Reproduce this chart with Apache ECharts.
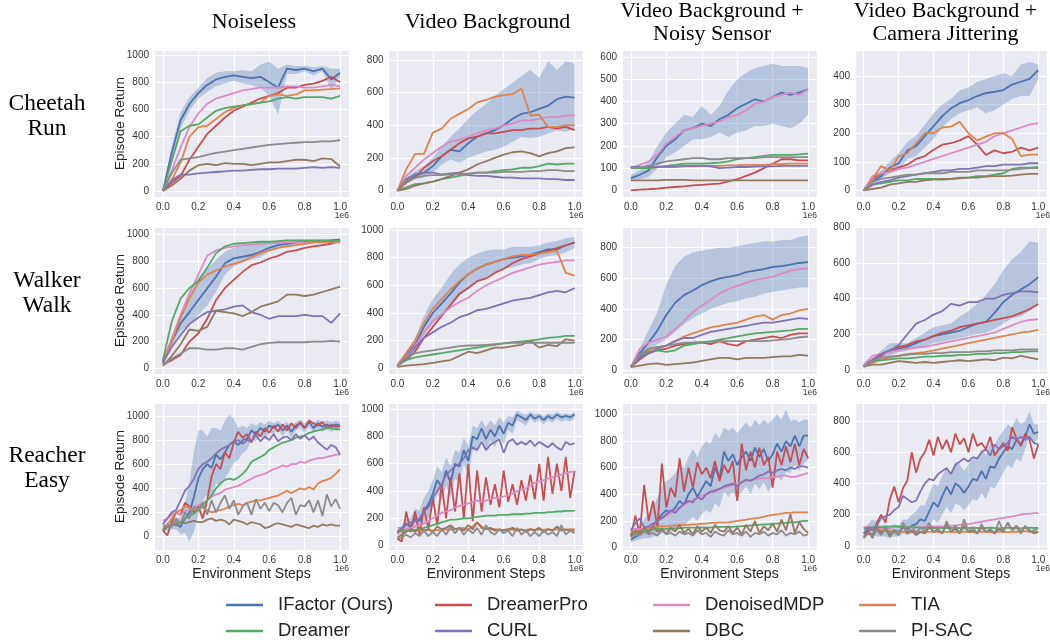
<!DOCTYPE html>
<html><head><meta charset="utf-8">
<script src="https://cdn.jsdelivr.net/npm/echarts@6/dist/echarts.min.js"></script>
<style>html,body{margin:0;padding:0;background:#fff}#c{width:1050px;height:640px}</style>
</head><body><div id="c"></div><script>
const methods = ['IFactor (Ours)','DreamerPro','DenoisedMDP','TIA','Dreamer','CURL','DBC','PI-SAC'];
const colors = ['#4C72B0','#C44E52','#DA8BC3','#DD8452','#55A868','#8172B3','#937860','#8C8C8C'];
const colTitles = [['Noiseless'],['Video Background'],['Video Background +','Noisy Sensor'],['Video Background +','Camera Jittering']];
const rowTitles = [['Cheetah','Run'],['Walker','Walk'],['Reacher','Easy']];
const xTickLabels = ['0.0','0.2','0.4','0.6','0.8','1.0'];
const xOffsetLabel = '1e6';
const yLabel = 'Episode Return';
const xLabel = 'Environment Steps';
const stepsCoarse = [0,0.05,0.1,0.15,0.2,0.25,0.3,0.35,0.4,0.45,0.5,0.55,0.6,0.65,0.7,0.75,0.8,0.85,0.9,0.95,1.0];
const stepsFine = [0,0.025,0.05,0.075,0.1,0.125,0.15,0.175,0.2,0.225,0.25,0.275,0.3,0.325,0.35,0.375,0.4,0.425,0.45,0.475,0.5,0.525,0.55,0.575,0.6,0.625,0.65,0.675,0.7,0.725,0.75,0.775,0.8,0.825,0.85,0.875,0.9,0.925,0.95,0.975,1.0];

// ---- Cheetah Run / Noiseless
const CR_NL_IFactor = [0,280,520,640,720,780,820,840,850,840,830,840,800,760,900,890,900,880,900,820,870];
const CR_NL_hi = [0,330,580,690,760,830,870,880,880,890,880,930,950,900,930,920,920,910,920,900,900];
const CR_NL_lo = [0,230,460,590,680,730,770,790,810,790,780,760,700,560,860,860,880,850,880,740,840];
const CR_NL_DreamerPro = [0,60,110,230,325,420,480,540,590,620,650,680,700,720,760,760,780,790,810,840,800];
const CR_NL_DenoisedMDP = [0,150,320,470,570,640,680,700,720,740,750,760,760,760,770,770,760,760,770,780,770];
const CR_NL_TIA = [0,80,210,400,470,480,530,580,610,630,640,650,700,710,700,710,740,740,745,750,755];
const CR_NL_Dreamer = [0,220,440,480,490,540,590,610,620,630,640,650,660,680,690,680,690,690,690,680,700];
const CR_NL_CURL = [0,80,120,120,130,135,140,145,150,150,155,160,160,165,165,165,170,175,170,175,170];
const CR_NL_DBC = [0,40,90,150,190,200,190,205,200,200,190,200,210,210,220,230,230,220,240,235,180];
const CR_NL_PISAC = [0,130,230,240,250,265,280,290,300,310,320,330,340,345,350,355,360,360,365,365,375];
// ---- Cheetah Run / Video Background
const CR_VB_IFactor = [0,60,90,110,150,210,250,240,290,330,350,370,400,440,470,480,500,520,560,575,570];
const CR_VB_hi = [0,80,120,150,200,270,330,380,440,490,530,580,620,660,700,740,690,790,740,790,780];
const CR_VB_lo = [0,40,70,80,110,160,190,170,200,220,240,250,270,300,330,320,330,350,370,360,380];
const CR_VB_DreamerPro = [0,50,80,140,180,210,250,290,320,330,350,350,360,370,370,380,380,390,380,390,370];
const CR_VB_DenoisedMDP = [0,90,140,190,230,270,300,310,330,350,370,380,400,410,430,430,440,450,450,460,460];
const CR_VB_TIA = [0,130,225,225,355,380,440,470,500,540,555,575,585,590,625,460,465,390,390,400,400];
const CR_VB_Dreamer = [0,20,40,45,55,70,80,90,100,110,110,120,125,130,140,140,150,165,160,165,165];
const CR_VB_CURL = [0,70,100,110,110,100,105,110,95,90,90,85,80,80,75,75,75,70,70,65,65];
const CR_VB_DBC = [0,10,30,45,55,70,90,110,130,160,180,200,220,235,240,230,210,230,240,260,265];
const CR_VB_PISAC = [0,60,80,90,95,95,100,100,105,110,110,110,115,115,115,120,120,125,125,120,120];
// ---- Cheetah Run / Video Background + Noisy Sensor
const CR_NS_IFactor = [55,70,90,150,200,230,270,280,300,290,320,340,370,390,410,400,420,440,430,440,455];
const CR_NS_hi = [70,90,130,200,260,300,340,330,380,340,380,450,500,530,550,560,570,560,560,560,550];
const CR_NS_lo = [40,50,60,100,150,170,200,230,230,240,260,240,260,270,290,290,300,290,280,300,340];
const CR_NS_DreamerPro = [0,3,5,8,12,15,18,22,25,28,30,40,50,65,80,100,120,140,140,135,135];
const CR_NS_DenoisedMDP = [100,115,130,160,210,240,270,280,290,300,310,330,340,360,390,400,420,430,440,430,455];
const CR_NS_TIA = [100,100,100,105,105,105,108,108,110,110,110,112,113,115,115,115,118,118,120,120,120];
const CR_NS_Dreamer = [100,100,100,105,110,115,120,120,120,122,125,130,140,145,150,155,160,160,160,162,165];
const CR_NS_CURL = [105,105,105,105,107,108,110,110,110,108,100,102,105,105,107,108,108,110,110,110,110];
const CR_NS_DBC = [45,45,45,45,47,47,47,45,45,45,45,45,45,45,45,45,45,45,45,45,45];
const CR_NS_PISAC = [100,105,110,120,130,135,140,145,145,140,140,145,145,145,145,150,150,150,150,150,150];
// ---- Cheetah Run / Video Background + Camera Jittering
const CR_CJ_IFactor = [0,30,50,80,95,140,155,190,225,260,287,305,316,330,340,345,351,370,380,390,421];
const CR_CJ_hi = [10,40,70,100,130,170,190,230,270,300,320,350,360,380,390,400,410,400,440,450,440];
const CR_CJ_lo = [0,20,40,60,70,110,120,150,180,220,250,270,280,290,270,280,300,320,330,330,390];
const CR_CJ_DreamerPro = [0,40,60,70,80,90,110,120,142,160,165,175,190,160,124,140,130,135,150,140,150];
const CR_CJ_DenoisedMDP = [0,50,60,65,75,80,90,100,110,120,130,140,150,160,170,190,200,210,220,230,235];
const CR_CJ_TIA = [0,40,85,70,119,130,165,200,200,220,223,240,200,175,188,200,200,180,120,125,125];
const CR_CJ_Dreamer = [0,20,25,30,35,35,40,40,40,38,40,45,45,50,50,55,60,75,80,80,82];
const CR_CJ_CURL = [0,20,30,35,45,50,55,60,65,70,70,75,75,80,85,85,90,90,90,95,95];
const CR_CJ_DBC = [0,5,10,20,25,30,30,35,38,40,40,42,45,45,48,50,50,52,55,58,58];
const CR_CJ_PISAC = [0,30,40,45,50,55,55,60,60,60,65,65,65,70,70,70,70,72,75,78,78];
// ---- Walker Walk / Noiseless
const WW_NL_IFactor = [50,200,336,420,510,597,684,784,821,833,846,870,900,920,930,940,945,950,950,955,960];
const WW_NL_hi = [60,230,400,560,680,740,810,870,900,920,930,940,940,950,955,960,960,960,965,965,970];
const WW_NL_lo = [40,170,280,320,400,470,570,700,760,790,810,830,870,900,910,920,930,940,940,945,950];
const WW_NL_DreamerPro = [30,60,100,200,260,370,510,600,660,720,770,790,820,840,870,880,900,910,920,930,950];
const WW_NL_DenoisedMDP = [50,220,400,560,700,840,880,900,910,920,925,930,935,935,940,940,940,940,940,940,940];
const WW_NL_TIA = [40,200,380,520,640,700,730,760,780,800,830,860,880,900,910,920,930,940,940,945,945];
const WW_NL_Dreamer = [60,350,520,600,650,750,860,910,930,935,940,945,945,950,955,955,955,955,955,950,955];
const WW_NL_CURL = [40,160,250,330,380,420,430,440,460,470,420,400,370,390,390,390,400,390,390,340,410];
const WW_NL_DBC = [20,90,180,290,280,310,430,420,410,390,420,460,480,500,550,550,540,550,570,590,610];
const WW_NL_PISAC = [20,70,110,150,150,140,140,150,150,140,160,180,190,195,195,195,195,200,200,205,200];
// ---- Walker Walk / Video Background
const WW_VB_IFactor = [20,100,170,300,400,470,540,620,680,720,750,770,790,800,810,820,840,860,860,890,910];
const WW_VB_hi = [30,120,220,380,500,580,680,750,800,830,850,860,860,880,880,880,890,910,920,940,950];
const WW_VB_lo = [10,80,130,240,320,390,440,520,580,620,660,690,720,730,750,760,790,810,820,840,870];
const WW_VB_DreamerPro = [20,60,120,220,300,380,460,540,580,630,650,690,720,760,790,810,830,850,870,890,910];
const WW_VB_DenoisedMDP = [20,80,160,260,340,390,440,480,510,560,600,630,660,690,710,730,750,760,770,780,780];
const WW_VB_TIA = [20,110,200,330,430,500,570,630,680,720,750,770,790,810,820,820,830,840,850,690,670];
const WW_VB_Dreamer = [20,60,80,90,100,110,120,130,140,150,160,170,180,190,195,200,210,220,225,235,235];
const WW_VB_CURL = [20,70,150,220,260,300,330,370,390,420,430,450,470,490,500,510,530,550,560,550,580];
const WW_VB_DBC = [10,20,25,30,40,50,60,90,120,110,130,150,150,160,170,200,150,170,160,210,200];
const WW_VB_PISAC = [20,80,110,120,130,140,150,160,165,165,170,175,180,185,185,185,185,185,185,185,185];
// ---- Walker Walk / Video Background + Noisy Sensor
const WW_NS_IFactor = [20,110,180,260,360,440,490,520,555,580,600,610,620,640,650,660,675,680,690,700,705];
const WW_NS_hi = [30,140,260,380,560,680,740,770,780,790,800,800,810,820,830,840,840,850,850,870,880];
const WW_NS_lo = [10,80,120,170,200,250,300,340,370,400,420,440,450,470,480,500,510,520,530,540,540];
const WW_NS_DreamerPro = [20,70,110,130,140,160,170,180,180,170,190,170,160,190,200,210,220,210,230,240,240];
const WW_NS_DenoisedMDP = [20,140,180,200,220,270,320,380,420,460,500,530,550,570,590,600,610,630,650,660,665];
const WW_NS_TIA = [20,100,130,150,160,190,220,240,260,280,290,300,310,330,350,360,330,360,370,390,400];
const WW_NS_Dreamer = [20,90,120,130,120,130,160,170,180,190,200,210,220,230,240,245,250,255,260,270,270];
const WW_NS_CURL = [20,80,110,140,160,190,210,210,230,250,260,270,280,290,300,310,310,320,330,340,335];
const WW_NS_DBC = [20,30,40,45,35,40,45,50,60,70,80,80,70,80,80,80,85,90,90,100,95];
const WW_NS_PISAC = [20,100,140,150,160,170,180,180,185,185,190,190,190,190,190,190,195,200,205,215,220];
// ---- Walker Walk / Video Background + Camera Jittering
const WW_CJ_IFactor = [20,50,90,110,120,130,150,170,190,200,210,220,240,260,270,320,380,420,450,480,520];
const WW_CJ_hi = [30,60,110,150,150,150,180,210,240,250,260,300,330,370,420,480,560,620,660,720,710];
const WW_CJ_lo = [10,40,70,80,100,110,120,130,150,160,170,180,190,200,210,230,260,290,300,330,370];
const WW_CJ_DreamerPro = [20,60,80,110,130,140,160,170,190,210,220,240,250,260,270,280,290,300,320,340,370];
const WW_CJ_DenoisedMDP = [30,80,90,100,110,120,125,130,140,150,160,170,180,190,200,210,230,250,270,280,285];
const WW_CJ_TIA = [20,40,60,70,80,90,95,100,110,120,130,140,150,160,170,180,190,200,210,215,225];
const WW_CJ_Dreamer = [20,50,55,60,65,65,70,75,75,80,80,85,85,90,90,95,95,100,100,105,105];
const WW_CJ_CURL = [20,60,90,110,140,200,260,280,310,330,370,360,380,380,400,400,420,430,440,440,435];
const WW_CJ_DBC = [20,30,30,40,50,45,40,45,40,45,50,55,50,55,60,55,70,65,80,70,60];
const WW_CJ_PISAC = [20,50,70,75,80,85,90,90,95,95,100,100,100,105,105,110,110,110,115,115,115];
// ---- Reacher Easy / Noiseless
const RE_NL_IFactor = [50,80,90,100,80,150,200,330,480,560,600,570,680,640,700,760,790,760,800,810,880,850,900,870,920,900,930,880,920,870,920,940,900,950,900,940,910,930,910,930,920];
const RE_NL_hi = [60,110,130,150,160,280,450,700,880,880,830,900,900,880,960,1010,980,900,920,900,940,920,950,930,960,940,960,930,950,920,950,970,940,980,940,970,950,960,950,960,950];
const RE_NL_lo = [40,50,60,60,20,30,-40,40,180,300,350,320,440,420,480,540,610,640,690,720,800,790,840,810,870,850,890,830,880,820,880,900,860,910,860,900,870,890,870,890,880];
const RE_NL_DreamerPro = [50,10,120,200,180,280,250,200,250,150,300,500,600,560,700,650,780,870,820,850,780,870,830,900,860,920,870,930,880,940,900,950,900,960,940,920,950,900,930,910,920];
const RE_NL_DenoisedMDP = [130,150,180,200,180,210,220,240,260,280,300,330,350,360,390,400,410,420,440,460,480,500,510,520,540,560,570,590,580,600,600,620,610,630,640,650,650,660,670,680,680];
const RE_NL_TIA = [60,100,150,200,220,250,240,220,230,240,220,200,210,220,230,250,260,270,260,280,290,300,300,310,320,330,340,360,380,360,380,400,390,410,390,440,460,470,490,520,560];
const RE_NL_Dreamer = [50,80,100,120,110,150,170,190,220,260,300,340,400,440,470,480,470,490,520,560,620,640,660,680,720,740,760,780,790,800,820,830,840,860,870,880,890,900,900,890,890];
const RE_NL_CURL = [100,150,200,220,300,380,420,480,560,600,620,650,690,720,740,760,790,800,770,800,790,840,790,830,800,850,790,820,830,800,850,810,840,800,830,780,750,720,760,740,680];
const RE_NL_DBC = [50,80,100,100,120,110,120,130,120,120,140,150,130,140,130,100,140,130,120,100,120,110,100,70,80,100,110,100,90,80,100,90,80,70,90,80,100,90,100,90,90];
const RE_NL_PISAC = [80,100,80,150,100,200,150,250,220,280,180,300,200,280,340,230,300,180,250,280,180,310,230,280,210,280,260,200,280,320,180,260,250,300,200,300,170,350,250,310,230];
// ---- Reacher Easy / Video Background
const RE_VB_IFactor = [90,120,160,140,200,180,260,300,380,480,430,550,460,600,580,700,620,800,780,860,780,850,800,880,820,900,880,960,940,920,960,930,950,920,950,930,960,940,950,940,960];
const RE_VB_hi = [110,150,200,200,270,260,350,400,480,580,540,650,580,700,680,790,730,880,860,920,870,920,880,940,900,950,940,990,970,960,980,960,970,950,970,960,980,960,970,960,980];
const RE_VB_lo = [70,90,120,90,130,110,170,200,280,380,330,440,350,490,470,600,520,700,690,780,700,770,720,800,740,850,820,920,900,880,930,900,920,890,920,900,930,910,920,910,930];
const RE_VB_DreamerPro = [50,30,250,100,250,80,280,120,350,150,450,200,500,250,530,200,600,180,550,250,500,300,450,280,550,320,450,300,480,330,520,340,600,330,650,380,600,400,650,350,550];
const RE_VB_DenoisedMDP = [130,130,120,130,140,150,160,180,200,220,240,250,260,280,290,300,310,320,330,320,330,340,350,350,360,370,380,400,410,420,440,460,470,480,490,500,510,520,530,540,540];
const RE_VB_TIA = [100,105,110,110,115,110,110,115,110,115,110,120,115,120,125,130,120,140,170,140,125,120,120,115,115,120,115,120,115,115,120,115,120,115,120,115,120,120,115,120,120];
const RE_VB_Dreamer = [110,110,110,110,115,120,130,140,150,160,170,180,190,190,195,200,200,205,210,215,220,220,220,225,225,225,230,230,230,235,235,240,240,240,245,245,250,250,255,255,255];
const RE_VB_CURL = [100,130,150,170,180,200,250,280,350,400,450,520,550,580,600,640,700,720,700,760,700,740,760,780,680,760,780,740,760,740,770,730,760,740,720,750,720,700,760,740,750];
const RE_VB_DBC = [60,80,100,120,100,130,110,120,100,140,120,130,150,120,130,110,150,120,170,130,120,130,110,120,110,120,130,110,120,100,120,110,130,100,120,110,140,110,120,110,110];
const RE_VB_PISAC = [50,60,80,60,90,70,110,70,100,70,120,80,140,90,130,80,120,90,130,80,150,100,80,120,90,110,70,130,80,110,70,100,70,110,80,100,70,150,80,110,90];
// ---- Reacher Easy / Video Background + Noisy Sensor
const RE_NS_IFactor = [60,80,100,120,140,160,200,250,280,260,300,350,320,400,450,380,440,500,460,600,520,720,650,700,620,680,720,650,750,680,740,650,700,780,720,800,760,840,760,840,840];
const RE_NS_hi = [100,130,170,210,260,300,380,460,500,520,560,620,600,680,740,680,760,800,780,860,820,900,880,900,860,900,940,900,960,920,960,930,960,1000,960,1040,950,960,940,960,960];
const RE_NS_lo = [40,50,60,70,70,80,90,110,120,110,140,170,160,200,230,200,250,280,260,330,300,420,380,420,360,420,460,400,480,440,490,420,480,540,500,570,560,620,580,630,660];
const RE_NS_DreamerPro = [80,240,100,470,200,350,150,630,300,450,380,670,420,600,450,640,550,600,520,650,500,620,560,650,350,780,580,720,600,750,620,680,450,720,620,760,640,780,620,740,670];
const RE_NS_DenoisedMDP = [140,140,140,140,140,170,200,220,240,260,280,300,320,340,360,370,390,400,410,420,440,450,460,470,480,490,500,510,510,520,520,520,530,530,540,540,530,530,540,550,560];
const RE_NS_TIA = [110,120,130,140,150,150,160,160,160,165,165,170,170,170,175,175,180,180,185,185,190,190,190,195,200,205,210,215,220,225,230,240,245,250,255,260,260,265,265,265,265];
const RE_NS_Dreamer = [100,110,120,125,130,135,140,140,140,145,145,145,150,150,150,150,150,150,150,155,155,155,155,155,160,160,165,165,170,170,175,175,180,180,185,185,190,190,195,200,200];
const RE_NS_CURL = [130,180,220,150,160,180,200,220,250,280,260,300,330,350,340,380,360,400,420,430,440,460,470,480,460,490,510,500,520,540,550,570,560,580,590,580,600,590,610,610,600];
const RE_NS_DBC = [90,130,100,150,110,160,120,140,100,150,120,170,110,140,100,160,120,150,110,170,130,120,160,110,150,100,170,120,200,110,160,130,180,120,210,130,250,110,190,140,110];
const RE_NS_PISAC = [80,100,90,120,100,110,90,130,100,110,90,120,100,110,90,130,100,110,80,120,100,90,130,100,110,90,120,80,110,100,120,90,110,100,130,90,110,100,120,90,100];
// ---- Reacher Easy / Video Background + Camera Jittering
const RE_CJ_IFactor = [80,100,110,100,90,100,80,100,90,120,110,130,140,170,160,220,280,250,320,380,330,400,380,340,380,430,420,480,430,510,500,560,600,640,620,680,650,700,780,720,730];
const RE_CJ_hi = [100,140,170,150,130,140,120,140,130,170,170,200,220,260,260,330,400,380,450,500,470,540,520,480,520,570,560,620,580,660,650,700,740,780,760,820,780,800,860,780,780];
const RE_CJ_lo = [60,70,70,60,60,60,50,60,60,80,70,80,80,100,90,130,170,150,200,250,210,270,260,230,260,300,290,340,300,380,370,420,470,520,500,560,540,620,700,660,690];
const RE_CJ_DreamerPro = [50,100,50,150,200,150,300,380,280,370,420,600,470,560,600,680,580,700,620,680,600,720,650,690,600,720,640,660,620,700,580,620,660,610,760,690,640,720,680,560,650];
const RE_CJ_DenoisedMDP = [120,120,120,115,115,115,115,120,120,120,120,120,120,120,120,125,125,125,125,125,130,130,135,140,140,145,150,155,160,165,170,175,180,185,190,195,200,205,205,210,210];
const RE_CJ_TIA = [120,110,110,100,100,95,95,95,90,90,90,90,90,90,90,90,90,90,90,90,90,88,90,92,90,88,90,92,90,88,90,92,90,88,90,92,90,95,90,90,90];
const RE_CJ_Dreamer = [110,115,120,120,120,120,125,125,125,120,120,120,120,115,115,115,115,115,115,115,115,118,115,112,115,118,115,112,115,118,115,112,115,118,115,115,112,115,118,115,115];
const RE_CJ_CURL = [80,120,100,130,180,190,200,230,250,320,300,280,290,350,400,430,420,460,480,500,460,520,540,560,540,570,560,600,620,580,650,620,640,660,700,680,700,680,700,660,650];
const RE_CJ_DBC = [60,90,70,120,80,110,60,100,70,130,80,100,70,90,80,120,90,100,80,140,90,110,80,130,90,100,80,120,90,100,80,110,90,150,100,130,90,120,100,80,90];
const RE_CJ_PISAC = [50,80,60,100,70,120,80,90,70,150,90,130,80,120,90,150,90,110,80,160,90,130,80,170,90,120,80,140,90,110,80,160,90,150,100,120,80,130,90,100,110];

// ---------- layout (positions / styles only) ----------
const colLeft = [154, 388.5, 622, 855];
const plotW = 195;
const rowTop = [50, 227, 403];
const plotH = 147;

const panels = [
  {r:0,c:0,x:stepsCoarse,lo:CR_NL_lo,hi:CR_NL_hi,ys:[CR_NL_IFactor,CR_NL_DreamerPro,CR_NL_DenoisedMDP,CR_NL_TIA,CR_NL_Dreamer,CR_NL_CURL,CR_NL_DBC,CR_NL_PISAC],ymin:-44,ymax:1037,step:200},
  {r:0,c:1,x:stepsCoarse,lo:CR_VB_lo,hi:CR_VB_hi,ys:[CR_VB_IFactor,CR_VB_DreamerPro,CR_VB_DenoisedMDP,CR_VB_TIA,CR_VB_Dreamer,CR_VB_CURL,CR_VB_DBC,CR_VB_PISAC],ymin:-39,ymax:861,step:200},
  {r:0,c:2,x:stepsCoarse,lo:CR_NS_lo,hi:CR_NS_hi,ys:[CR_NS_IFactor,CR_NS_DreamerPro,CR_NS_DenoisedMDP,CR_NS_TIA,CR_NS_Dreamer,CR_NS_CURL,CR_NS_DBC,CR_NS_PISAC],ymin:-30,ymax:632,step:100},
  {r:0,c:3,x:stepsCoarse,lo:CR_CJ_lo,hi:CR_CJ_hi,ys:[CR_CJ_IFactor,CR_CJ_DreamerPro,CR_CJ_DenoisedMDP,CR_CJ_TIA,CR_CJ_Dreamer,CR_CJ_CURL,CR_CJ_DBC,CR_CJ_PISAC],ymin:-23,ymax:491,step:100},
  {r:1,c:0,x:stepsCoarse,lo:WW_NL_lo,hi:WW_NL_hi,ys:[WW_NL_IFactor,WW_NL_DreamerPro,WW_NL_DenoisedMDP,WW_NL_TIA,WW_NL_Dreamer,WW_NL_CURL,WW_NL_DBC,WW_NL_PISAC],ymin:-42,ymax:1055,step:200},
  {r:1,c:1,x:stepsCoarse,lo:WW_VB_lo,hi:WW_VB_hi,ys:[WW_VB_IFactor,WW_VB_DreamerPro,WW_VB_DenoisedMDP,WW_VB_TIA,WW_VB_Dreamer,WW_VB_CURL,WW_VB_DBC,WW_VB_PISAC],ymin:-41,ymax:1022,step:200},
  {r:1,c:2,x:stepsCoarse,lo:WW_NS_lo,hi:WW_NS_hi,ys:[WW_NS_IFactor,WW_NS_DreamerPro,WW_NS_DenoisedMDP,WW_NS_TIA,WW_NS_Dreamer,WW_NS_CURL,WW_NS_DBC,WW_NS_PISAC],ymin:-25,ymax:935,step:200},
  {r:1,c:3,x:stepsCoarse,lo:WW_CJ_lo,hi:WW_CJ_hi,ys:[WW_CJ_IFactor,WW_CJ_DreamerPro,WW_CJ_DenoisedMDP,WW_CJ_TIA,WW_CJ_Dreamer,WW_CJ_CURL,WW_CJ_DBC,WW_CJ_PISAC],ymin:-22,ymax:800,step:200},
  {r:2,c:0,x:stepsFine,lo:RE_NL_lo,hi:RE_NL_hi,ys:[RE_NL_IFactor,RE_NL_DreamerPro,RE_NL_DenoisedMDP,RE_NL_TIA,RE_NL_Dreamer,RE_NL_CURL,RE_NL_DBC,RE_NL_PISAC],ymin:-112,ymax:1108,step:200},
  {r:2,c:1,x:stepsFine,lo:RE_VB_lo,hi:RE_VB_hi,ys:[RE_VB_IFactor,RE_VB_DreamerPro,RE_VB_DenoisedMDP,RE_VB_TIA,RE_VB_Dreamer,RE_VB_CURL,RE_VB_DBC,RE_VB_PISAC],ymin:-32,ymax:1045,step:200},
  {r:2,c:2,x:stepsFine,lo:RE_NS_lo,hi:RE_NS_hi,ys:[RE_NS_IFactor,RE_NS_DreamerPro,RE_NS_DenoisedMDP,RE_NS_TIA,RE_NS_Dreamer,RE_NS_CURL,RE_NS_DBC,RE_NS_PISAC],ymin:-18,ymax:1085,step:200},
  {r:2,c:3,x:stepsFine,lo:RE_CJ_lo,hi:RE_CJ_hi,ys:[RE_CJ_IFactor,RE_CJ_DreamerPro,RE_CJ_DenoisedMDP,RE_CJ_TIA,RE_CJ_Dreamer,RE_CJ_CURL,RE_CJ_DBC,RE_CJ_PISAC],ymin:-26,ymax:916,step:200}
];

const tickFont = {fontFamily:'Liberation Sans', fontSize:10, color:'#333'};
const zip = (xs, ys) => ys.map((v,i)=>[xs[i], v]);
const bandFill = 'rgba(76,114,176,0.32)';

function renderBand(params, api) {
  if (params.dataIndexInside !== 0) return null;
  const n = params.dataInsideLength;
  const upper = [], lower = [];
  for (let j = 0; j < n; j++) {
    const xv = api.value(0, j);
    lower.push(api.coord([xv, api.value(1, j)]));
    upper.push(api.coord([xv, api.value(2, j)]));
  }
  return {type:'polygon', shape:{points: upper.concat(lower.reverse())}, style:{fill:bandFill}, silent:true};
}

const grids = [], xAxes = [], yAxes = [], series = [], graphics = [];
panels.forEach((p,k)=>{
  grids.push({left:colLeft[p.c], top:rowTop[p.r], width:plotW, height:plotH, show:true, backgroundColor:'#EAEAF2', borderWidth:0, containLabel:false});
  xAxes.push({type:'value', gridIndex:k, min:-0.05, max:1.05, minInterval:0.2, maxInterval:0.2,
    axisLine:{show:false}, axisTick:{show:false},
    splitLine:{show:true, lineStyle:{color:'#ffffff', width:1.2}},
    axisLabel:Object.assign({margin:5, formatter:v=>{const i=Math.round(v/0.2);return Math.abs(v-i*0.2)<1e-6&&i>=0&&i<xTickLabels.length?xTickLabels[i]:'';}}, tickFont),
    name: p.r===2 ? xLabel : '', nameLocation:'middle', nameGap:17,
    nameTextStyle:{fontFamily:'Liberation Sans', fontSize:14, color:'#222'}
  });
  yAxes.push({type:'value', gridIndex:k, min:p.ymin, max:p.ymax, minInterval:p.step, maxInterval:p.step,
    axisLine:{show:false}, axisTick:{show:false},
    splitLine:{show:true, lineStyle:{color:'#ffffff', width:1.2}},
    axisLabel:Object.assign({margin:5, formatter:v=>{const i=Math.round(v/p.step);return Math.abs(v-i*p.step)<1e-6?String(i*p.step):'';}}, tickFont),
    name: p.c===0 ? yLabel : '', nameLocation:'middle', nameGap:27, nameRotate:90, nameMoveOverlap:false,
    nameTextStyle:{fontFamily:'Liberation Sans', fontSize:13.5, color:'#222'}
  });
  // confidence band of IFactor
  series.push({type:'custom', name:'band-'+k, xAxisIndex:k, yAxisIndex:k, clip:true, silent:true, z:1,
    data:p.x.map((xv,i)=>[xv, p.lo[i], p.hi[i]]), renderItem:renderBand});
  p.ys.forEach((ys,m)=>{
    series.push({type:'line', name:methods[m], xAxisIndex:k, yAxisIndex:k, data:zip(p.x, ys),
      symbol:'none', color:colors[m], lineStyle:{color:colors[m], width:1.8}, silent:true, z:2});
  });
  graphics.push({type:'text', x:colLeft[p.c]+plotW, y:rowTop[p.r]+plotH+19,
    style:{text:xOffsetLabel, align:'right', textAlign:'right', verticalAlign:'middle', textVerticalAlign:'middle', font:'8.5px "Liberation Sans"', fill:'#333'}});
});

const colTitleX = [254, 487.5, 712, 945.5];
colTitles.forEach((lines,c)=>{
  const ys = lines.length===1 ? [22] : [11, 34];
  lines.forEach((t,j)=>graphics.push({type:'text', x:colTitleX[c], y:ys[j],
    style:{text:t, align:'center', textAlign:'center', verticalAlign:'middle', textVerticalAlign:'middle', font:'22px "Liberation Serif"', fill:'#000'}}));
});
const rowTitleY = [[104,129],[281,306],[456,481]];
rowTitles.forEach((lines,r)=>{
  lines.forEach((t,j)=>graphics.push({type:'text', x:47, y:rowTitleY[r][j],
    style:{text:t, align:'center', textAlign:'center', verticalAlign:'middle', textVerticalAlign:'middle', font:'23.5px "Liberation Serif"', fill:'#000'}}));
});

const legendPos = [[226,604],[435,604],[653,604],[859,604],[226,630],[435,630],[653,630],[859,630]];
const legends = methods.map((m,i)=>({
  left:legendPos[i][0], top:legendPos[i][1]-8.5, orient:'horizontal', padding:0, itemWidth:37, itemHeight:2.6, icon:'rect',
  selectedMode:false,
  data:[{name:m, itemStyle:{color:colors[i]}}],
  textStyle:{fontFamily:'Liberation Sans', fontSize:18.5, color:'#222', padding:[0,0,0,10]}
}));

const chart = echarts.init(document.getElementById('c'), null, {renderer:'canvas'});
chart.setOption({animation:false, backgroundColor:'#ffffff', grid:grids, xAxis:xAxes, yAxis:yAxes, series:series, legend:legends, graphic:graphics});
</script></body></html>
